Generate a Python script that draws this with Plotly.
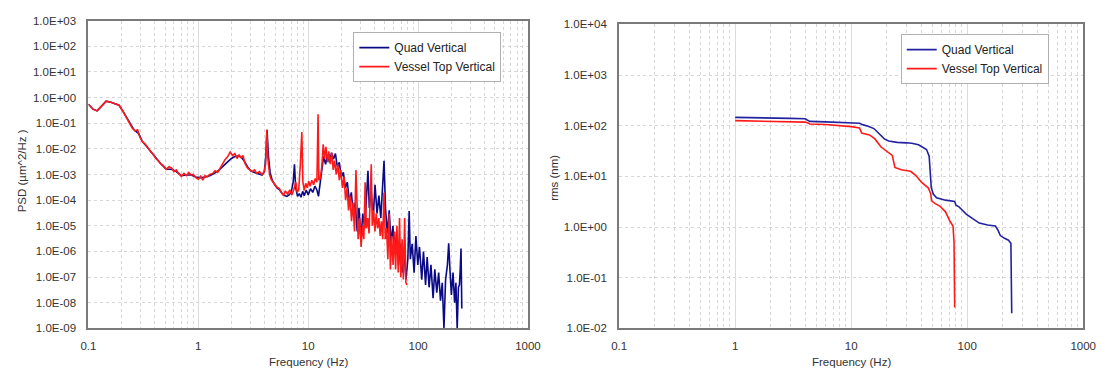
import plotly.graph_objects as go

# ---------------- data ----------------
psd_red_f = [0.100, 0.110, 0.120, 0.130, 0.145, 0.160, 0.175, 0.190, 0.205, 0.220, 0.235, 0.250, 0.265,
             0.280, 0.295, 0.310, 0.330, 0.350, 0.370, 0.390, 0.410, 0.430, 0.455, 0.480, 0.510, 0.540,
             0.570, 0.600, 0.630, 0.660, 0.700, 0.740, 0.780, 0.820, 0.860, 0.900, 0.950, 1.00, 1.05,
             1.10, 1.15, 1.20, 1.27, 1.35, 1.42, 1.50, 1.58, 1.66, 1.75, 1.85, 1.95, 2.05, 2.15, 2.25,
             2.35, 2.45, 2.55, 2.65, 2.80, 2.95, 3.10, 3.25, 3.40, 3.60, 3.80, 3.95, 4.10, 4.20, 4.30,
             4.45, 4.60, 4.80, 5.00, 5.20, 5.45, 5.70, 5.95, 6.20, 6.50, 6.80, 7.10, 7.40, 7.70, 7.95,
             8.20, 8.50, 8.75, 8.95, 9.20, 9.50, 9.80, 10.1, 10.4, 10.8, 11.2, 11.6, 12.0, 12.3, 12.5,
             12.9, 13.3, 13.7, 14.1, 14.5, 15.0, 15.4, 15.9, 16.4, 16.9, 17.4, 18.0, 18.6, 19.2, 19.8,
             20.5, 21.2, 21.9, 22.6, 23.3, 24.0, 24.8, 25.6, 26.4, 27.2, 27.7, 28.5, 29.4, 30.3, 31.2,
             32.1, 33.0, 33.8, 34.8, 35.8, 36.8, 37.5, 38.3, 39.4, 40.5, 41.6, 42.8, 44.0, 45.2, 46.4,
             47.7, 49.0, 50.3, 51.7, 53.1, 54.6, 56.0, 57.6, 59.2, 60.8, 62.5, 64.2, 66.0, 67.8, 69.6,
             71.5, 73.5, 75.5, 77.5, 79.5]
psd_red_v = [5.5e-1, 3.5e-1, 3.0e-1, 4.5e-1, 7.2e-1, 6.5e-1, 5.8e-1, 5.0e-1, 3.0e-1, 1.8e-1, 1.0e-1, 6.5e-2, 5.0e-2,
             5.5e-2, 2.8e-2, 1.9e-2, 1.5e-2, 1.0e-2, 7.5e-3, 6.0e-3, 4.2e-3, 3.5e-3, 2.6e-3, 2.2e-3, 1.6e-3, 2.0e-3,
             1.8e-3, 1.3e-3, 1.5e-3, 1.1e-3, 8.5e-4, 1.1e-3, 9.0e-4, 1.2e-3, 9.5e-4, 1.0e-3, 7.5e-4, 6.5e-4, 8.5e-4,
             6.0e-4, 9.0e-4, 8.0e-4, 1.0e-3, 1.1e-3, 1.4e-3, 1.2e-3, 1.8e-3, 2.6e-3, 3.8e-3, 5.0e-3, 7.5e-3, 5.5e-3,
             6.5e-3, 4.2e-3, 5.8e-3, 4.5e-3, 5.5e-3, 2.8e-3, 1.8e-3, 1.5e-3, 1.3e-3, 1.5e-3, 1.1e-3, 1.3e-3, 1.0e-3,
             1.2e-3, 2.5e-3, 5.5e-2, 4.0e-3, 1.0e-3, 6.5e-4, 5.0e-4, 4.0e-4, 3.2e-4, 2.8e-4, 2.0e-4, 1.5e-4, 2.3e-4,
             1.7e-4, 2.5e-4, 1.6e-4, 2.6e-4, 5.0e-4, 2.0e-4, 2.5e-4, 3.0e-3, 4.5e-2, 5.0e-4, 2.4e-4, 4.5e-4, 3.0e-4,
             5.5e-4, 3.5e-4, 6.0e-4, 4.0e-4, 7.0e-4, 5.0e-4, 2.2e-1, 6.0e-4, 7.0e-4, 2.0e-3, 1.5e-2, 4.0e-3, 1.2e-2,
             3.0e-3, 8.0e-3, 2.5e-3, 7.0e-3, 1.5e-3, 3.5e-3, 1.0e-3, 2.5e-3, 6.0e-4, 1.5e-3, 3.0e-4, 8.0e-4, 1.0e-4,
             3.0e-4, 4.0e-5, 1.5e-4, 1.5e-5, 8.0e-5, 6.0e-6, 1.5e-3, 4.0e-5, 3.0e-6, 2.0e-5, 1.5e-6, 1.0e-5, 3.0e-6,
             5.0e-4, 8.0e-6, 2.0e-5, 5.0e-6, 2.0e-4, 2.5e-3, 1.0e-5, 4.0e-5, 6.0e-6, 3.0e-5, 8.0e-6, 2.0e-5, 4.0e-6,
             1.5e-5, 3.0e-6, 2.0e-4, 3.0e-6, 8.0e-6, 5.0e-7, 3.0e-5, 2.0e-7, 4.0e-6, 3.0e-7, 6.0e-6, 2.0e-7, 1.0e-5,
             1.5e-7, 2.0e-5, 1.0e-7, 3.0e-6, 8.0e-8, 2.0e-5, 6.0e-8, 5.0e-8]

psd_blue_f = [0.100, 0.110, 0.120, 0.130, 0.145, 0.160, 0.175, 0.190, 0.205, 0.220, 0.240, 0.260, 0.285,
              0.310, 0.340, 0.370, 0.410, 0.455, 0.510, 0.570, 0.630, 0.700, 0.780, 0.860, 0.950, 1.05,
              1.15, 1.27, 1.40, 1.55, 1.70, 1.85, 2.00, 2.15, 2.30, 2.45, 2.60, 2.80, 3.00, 3.25, 3.50,
              3.80, 4.00, 4.12, 4.22, 4.35, 4.50, 4.70, 4.95, 5.20, 5.50, 5.80, 6.10, 6.40, 6.70, 7.00,
              7.30, 7.50, 7.70, 8.00, 8.30, 8.60, 8.90, 9.20, 9.60, 10.0, 10.5, 11.0, 11.5, 12.0, 12.4,
              12.8, 13.3, 13.8, 14.4, 15.0, 15.6, 16.3, 17.0, 17.7, 18.4, 19.2, 20.0, 20.9, 21.8, 22.7,
              23.7, 24.7, 25.7, 26.8, 27.9, 29.0, 30.2, 31.4, 32.7, 34.0, 35.0, 36.0, 37.5, 39.0, 40.6,
              42.3, 44.0, 45.8, 47.6, 49.0, 50.5, 52.5, 54.6, 56.8, 59.0, 61.4, 63.8, 66.4, 69.0, 71.8,
              74.6, 77.6, 80.7, 83.0, 85.0, 88.4, 92.0, 95.6, 99.4, 103, 108, 112, 117, 121, 126, 131,
              137, 142, 148, 154, 160, 166, 172, 178, 185, 190, 195, 201, 208, 215, 221, 227, 233, 238,
              242, 246, 250]
psd_blue_v = [5.5e-1, 3.5e-1, 3.0e-1, 4.5e-1, 7.2e-1, 6.5e-1, 5.8e-1, 5.0e-1, 3.0e-1, 1.8e-1, 9.0e-2, 5.5e-2, 4.0e-2,
              1.9e-2, 1.2e-2, 7.5e-3, 4.2e-3, 2.6e-3, 1.6e-3, 1.6e-3, 1.3e-3, 9.0e-4, 9.5e-4, 9.5e-4, 8.0e-4, 7.5e-4,
              8.0e-4, 9.0e-4, 1.1e-3, 1.5e-3, 2.2e-3, 3.2e-3, 4.2e-3, 5.0e-3, 5.2e-3, 4.8e-3, 3.5e-3, 2.0e-3, 1.4e-3,
              1.2e-3, 1.1e-3, 9.5e-4, 1.3e-3, 6.0e-3, 5.5e-2, 5.0e-3, 1.2e-3, 6.0e-4, 4.0e-4, 3.0e-4, 2.5e-4, 1.8e-4,
              1.5e-4, 1.4e-4, 1.6e-4, 2.0e-4, 5.0e-4, 2.5e-3, 3.0e-4, 1.4e-4, 1.8e-4, 1.3e-4, 2.2e-4, 1.5e-4, 2.5e-4,
              1.6e-4, 2.8e-4, 2.0e-4, 3.5e-4, 2.5e-4, 1.4e-4, 4.0e-4, 1.5e-3, 5.0e-3, 2.5e-3, 6.0e-3, 3.0e-3, 7.0e-3,
              4.0e-3, 6.5e-3, 2.0e-3, 3.0e-3, 8.0e-4, 1.2e-3, 3.0e-4, 5.0e-4, 9.0e-5, 2.0e-4, 3.0e-5, 8.0e-5, 6.0e-6,
              5.0e-5, 3.0e-6, 3.0e-5, 8.0e-6, 1.0e-4, 1.4e-3, 5.0e-5, 2.0e-4, 2.0e-5, 4.0e-4, 3.0e-5, 1.5e-4, 2.0e-5,
              4.0e-4, 3.4e-3, 5.0e-5, 5.0e-6, 4.0e-5, 2.0e-6, 1.0e-5, 8.0e-7, 6.0e-6, 3.0e-7, 2.0e-6, 1.5e-7, 1.0e-6,
              8.0e-8, 5.0e-7, 3.8e-5, 5.0e-7, 2.0e-6, 1.5e-7, 4.0e-6, 3.0e-7, 1.5e-6, 8.0e-8, 1.0e-6, 5.0e-8, 6.0e-7,
              4.0e-8, 3.0e-7, 1.5e-8, 2.0e-7, 2.5e-8, 1.5e-7, 1.2e-8, 6.0e-8, 1.0e-9, 8.0e-8, 3.0e-7, 2.1e-6, 2.0e-7,
              2.0e-8, 1.5e-7, 1.0e-8, 6.0e-8, 1.0e-9, 4.0e-8, 5.0e-8, 2.0e-7, 1.3e-6, 6.0e-9]

rms_blue_f = [1.0, 1.5, 2.0, 3.0, 4.0, 4.3, 4.4, 6.0, 8.0, 10.0, 11.8, 12.7, 14.0, 15.7, 17.5, 19.3, 21.0,
              24.9, 30.0, 33.3, 38.0, 44.6, 47.0, 48.0, 49.0, 51.0, 54.4, 65.0, 78.0, 80.0, 85.0, 90.0,
              98.0, 110.0, 127.0, 150.0, 175.0, 185.0, 193.0, 210.0, 227.0, 238.0, 240.0, 242.0]
rms_blue_v = [146, 145, 143, 140, 137, 128, 122, 119, 117, 115, 112, 104, 98, 88, 70, 55, 50,
              47, 46, 45, 42, 34, 25, 12, 6, 4.5, 3.8, 3.4, 3.2, 2.7, 2.5, 2.2,
              1.8, 1.5, 1.2, 1.1, 1.05, 0.85, 0.68, 0.6, 0.55, 0.48, 0.1, 0.02]

rms_red_f = [1.0, 2.0, 3.0, 4.0, 4.3, 4.4, 6.0, 8.3, 10.0, 11.8, 12.3, 14.4, 16.0, 18.1, 20.0, 22.6, 23.8,
             27.0, 32.5, 36.0, 40.5, 46.3, 48.5, 49.3, 53.0, 58.0, 65.0, 71.0, 75.5, 77.0, 78.0]
rms_red_v = [126, 124, 121, 118, 112, 108, 106, 100, 96, 90, 72, 66, 55, 38, 32, 26, 15,
             13.5, 12.6, 10.5, 7.6, 5.9, 4.5, 3.3, 2.9, 2.6, 2.0, 1.3, 1.05, 0.5, 0.026]

series_names = ["Quad Vertical", "Vessel Top Vertical"]

x_tick_vals = [0.1, 1, 10, 100, 1000]
x_tick_text = ["0.1", "1", "10", "100", "1000"]
psd_tick_vals = [1e-9, 1e-8, 1e-7, 1e-6, 1e-5, 1e-4, 1e-3, 1e-2, 1e-1, 1e0, 1e1, 1e2, 1e3]
psd_tick_text = ["1.0E-09", "1.0E-08", "1.0E-07", "1.0E-06", "1.0E-05", "1.0E-04", "1.0E-03",
                 "1.0E-02", "1.0E-01", "1.0E+00", "1.0E+01", "1.0E+02", "1.0E+03"]
rms_tick_vals = [1e-2, 1e-1, 1e0, 1e1, 1e2, 1e3, 1e4]
rms_tick_text = ["1.0E-02", "1.0E-01", "1.0E+00", "1.0E+01", "1.0E+02", "1.0E+03", "1.0E+04"]

# ---------------- styling ----------------
W, H = 1107, 378
BLUE = "#0a0a86"
BLUE2 = "#2222a0"
RED = "#ff1a1a"
GRID = "#d6d6d6"
FRAME = "#7a7a7a"
FONT = "Liberation Sans, Arial, sans-serif"
TXT = "#333333"

minor_x = [d * m for d in [0.1, 1, 10, 100] for m in range(2, 10)]


def px_x(p):
    return p / W


def px_y(p):
    return 1 - p / H


fig = go.Figure()
fig.add_trace(go.Scatter(x=psd_blue_f, y=psd_blue_v, mode="lines", name=series_names[0],
                         line=dict(color=BLUE, width=1.6), xaxis="x", yaxis="y", legend="legend"))
fig.add_trace(go.Scatter(x=psd_red_f, y=psd_red_v, mode="lines", name=series_names[1],
                         line=dict(color=RED, width=1.6), xaxis="x", yaxis="y", legend="legend"))
fig.add_trace(go.Scatter(x=rms_blue_f, y=rms_blue_v, mode="lines", name=series_names[0],
                         line=dict(color=BLUE2, width=1.6), xaxis="x2", yaxis="y2", legend="legend2"))
fig.add_trace(go.Scatter(x=rms_red_f, y=rms_red_v, mode="lines", name=series_names[1],
                         line=dict(color=RED, width=1.6), xaxis="x2", yaxis="y2", legend="legend2"))


def xaxis_cfg(domain, anchor):
    return dict(type="log", range=[-1, 3], domain=domain, anchor=anchor,
                tickmode="array", tickvals=x_tick_vals, ticktext=x_tick_text,
                ticks="outside", ticklen=6, tickcolor="rgba(0,0,0,0)",
                tickfont=dict(family=FONT, size=11.5, color=TXT),
                showgrid=True, gridcolor="#dcdcdc", gridwidth=1,
                minor=dict(tickmode="array", tickvals=minor_x, showgrid=True,
                           gridcolor=GRID, griddash="dot", gridwidth=1, ticks=""),
                showline=True, linecolor=FRAME, linewidth=2, mirror=True, zeroline=False)


def yaxis_cfg(domain, anchor, rng, vals, text):
    return dict(type="log", range=rng, domain=domain, anchor=anchor,
                tickmode="array", tickvals=vals, ticktext=text,
                ticks="outside", ticklen=8, tickcolor="rgba(0,0,0,0)",
                tickfont=dict(family=FONT, size=11.5, color=TXT),
                showgrid=True, gridcolor=GRID, griddash="dot", gridwidth=1,
                showline=True, linecolor=FRAME, linewidth=2, mirror=True, zeroline=False)


legend_common = dict(bgcolor="white", bordercolor="#b0b0b0", borderwidth=1,
                     font=dict(family=FONT, size=12, color="#222222"),
                     xanchor="left", yanchor="top", itemwidth=30, tracegroupgap=0)


def label(text, x, y, angle=0):
    return dict(text=text, x=px_x(x), y=px_y(y), xref="paper", yref="paper",
                xanchor="center", yanchor="middle", textangle=angle, showarrow=False,
                font=dict(family=FONT, size=11.5, color=TXT))


fig.update_layout(
    width=W, height=H,
    margin=dict(l=0, r=0, t=0, b=0),
    paper_bgcolor="white", plot_bgcolor="white",
    font=dict(family=FONT, size=12, color=TXT),
    xaxis=xaxis_cfg([px_x(82), px_x(530)], "y"),
    yaxis=yaxis_cfg([px_y(333), px_y(15)], "x", [-9, 3], psd_tick_vals, psd_tick_text),
    xaxis2=xaxis_cfg([px_x(623), px_x(1096)], "y2"),
    yaxis2=yaxis_cfg([px_y(333), px_y(19)], "x2", [-2, 4], rms_tick_vals, rms_tick_text),
    legend=dict(x=px_x(352), y=px_y(27), **legend_common),
    legend2=dict(x=px_x(910), y=px_y(29), **legend_common),
    annotations=[
        label("Frequency (Hz)", 306, 368),
        label("Frequency (Hz)", 860, 368),
        label("PSD (µm^2/Hz )", 14, 170, -90),
        label("rms (nm)", 557, 177, -90),
    ],
)

fig.write_html("out.html")
